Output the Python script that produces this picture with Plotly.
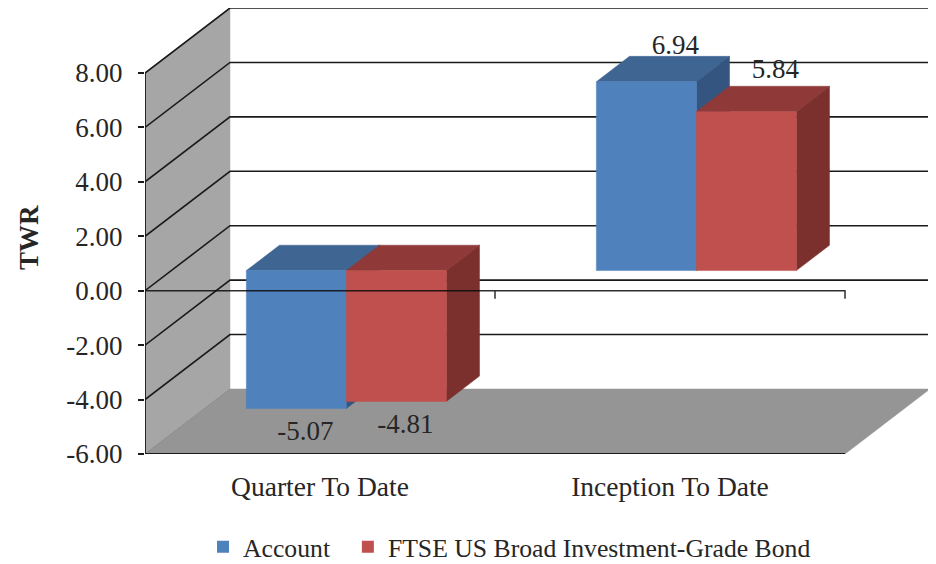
import plotly.graph_objects as go

categories = ["Quarter To Date", "Inception To Date"]
series_names = ["Account", "FTSE US Broad Investment-Grade Bond"]
account = [-5.07, 6.94]
ftse = [-4.81, 5.84]
y_ticks = [-6, -4, -2, 0, 2, 4, 6, 8]

FONT = "Liberation Serif"
TEXT = "#262626"
PAGE = 8                    # browser body margin
L, R, T, B = 145, 930, 8, 454
W, H = 936, 590
PX_X = 350.0                # px per category
PX_Y = (B - 73) / 14.0      # px per unit
DX, DY = 85 / PX_X, 65 / PX_Y          # full depth vector
xmax = 2 + DX
ymax = 8 + DY

FRONT = 0.31     # bar front depth fraction
BACK = 0.70      # bar back depth fraction
BAR_W = 100 / PX_X

fig = go.Figure()


def poly(xs, ys, color):
    fig.add_trace(go.Scatter(x=xs + xs[:1], y=ys + ys[:1], mode="lines", fill="toself",
                             fillcolor=color, line=dict(color=color, width=0.5),
                             hoverinfo="skip", showlegend=False))


def path(xs, ys, color="#1a1a1a", width=1.6):
    fig.add_trace(go.Scatter(x=xs, y=ys, mode="lines", line=dict(color=color, width=width),
                             hoverinfo="skip", showlegend=False))


# walls and floor
poly([0, DX, DX, 0], [-6, -6 + DY, 8 + DY, 8], "#A6A6A6")
poly([0, 2, 2 + DX, DX], [-6, -6, -6 + DY, -6 + DY], "#959595")

# gridlines on the side and back walls
for v in y_ticks[1:]:
    path([0, DX, 2 + DX], [v, v + DY, v + DY])
path([0, DX], [-6, -6 + DY], color="#8a8a8a", width=0.8)
path([0, 2], [-6, -6], width=2)


def bar(left, value, front_col, top_col, side_col):
    fx, fy = FRONT * DX, FRONT * DY
    bx, by = BACK * DX, BACK * DY
    x0, x1 = left + fx, left + BAR_W + fx
    lo, hi = min(0, value), max(0, value)
    # top face, side face, front face
    poly([x0, x1, x1 + bx - fx, x0 + bx - fx],
         [hi + fy, hi + fy, hi + by, hi + by], top_col)
    poly([x1, x1 + bx - fx, x1 + bx - fx, x1],
         [lo + fy, lo + by, hi + by, hi + fy], side_col)
    poly([x0, x1, x1, x0], [lo + fy, lo + fy, hi + fy, hi + fy], front_col)


styles = [("#4F81BD", "#3F6592", "#33557F"), ("#C0504D", "#8F3A38", "#7C302E")]
for i in range(len(categories)):
    center = i + 0.5
    bar(center - BAR_W, account[i], *styles[0])
    bar(center, ftse[i], *styles[1])

# value axis plane at zero, with its ticks, over the bars
TK = 8 / PX_Y
path([0, 0, 0, 1, 1, 1, 2, 2], [-TK, 0, 0, 0, -TK, 0, 0, -TK], color="rgba(10,10,10,0.85)", width=1.5)

# data labels
lab_x, lab_y, lab_t = [], [], []
for i in range(len(categories)):
    center = i + 0.5
    for j, val in enumerate((account[i], ftse[i])):
        cx = center + (j - 0.5) * BAR_W + FRONT * DX
        if val < 0:
            lab_x.append(cx + 9 / PX_X)
            lab_y.append(val + FRONT * DY - 25 / PX_Y)
        else:
            lab_x.append(cx + 29 / PX_X)
            lab_y.append(val + FRONT * DY + (34 if j == 0 else 40) / PX_Y)
        lab_t.append(f"{val:.2f}")
fig.add_trace(go.Scatter(x=lab_x, y=lab_y, text=lab_t, mode="text", textposition="middle center",
                         textfont=dict(family=FONT, size=27, color=TEXT),
                         hoverinfo="skip", showlegend=False))

# legend swatches
for k, (name, col) in enumerate(zip(series_names, ("#4F81BD", "#C0504D"))):
    label = name + ("\u00a0" * 2 if k == 0 else "")
    fig.add_trace(go.Scatter(x=[None], y=[None], mode="markers", name=label,
                             marker=dict(symbol="square", size=14, color=col)))

fig.add_annotation(text="<b>TWR</b>", textangle=-90, showarrow=False,
                   xref="x domain", yref="y domain", xanchor="center", yanchor="middle",
                   x=(29 - L) / (R - L), y=(B - 238) / (B - T),
                   font=dict(family=FONT, size=27, color=TEXT))

fig.update_layout(
    width=W, height=H, autosize=False,
    margin=dict(l=L - PAGE, r=W - R + PAGE, t=T - PAGE, b=H - B + PAGE, pad=0),
    paper_bgcolor="white", plot_bgcolor="white",
    font=dict(family=FONT, size=27, color=TEXT),
    xaxis=dict(range=[0, xmax], showgrid=False, zeroline=False, showline=False,
               tickmode="array", tickvals=[0.5, 1.5], ticktext=categories,
               ticks="", ticklabelstandoff=13, tickfont=dict(family=FONT, size=27.5, color=TEXT)),
    yaxis=dict(range=[-6, ymax], showgrid=False, zeroline=False, showline=False,
               tickmode="array", tickvals=y_ticks, ticktext=[f"{v:.2f}" for v in y_ticks],
               ticks="outside", ticklen=6, tickwidth=1.5, tickcolor="#1a1a1a",
               ticklabelstandoff=10,
               tickfont=dict(family=FONT, size=27, color=TEXT)),
    legend=dict(orientation="h", x=(203 - L) / (R - L), xanchor="left",
                y=(B - 547) / (B - T), yanchor="middle", itemsizing="constant",
                font=dict(family=FONT, size=25.7, color=TEXT), bgcolor="rgba(0,0,0,0)",
                itemwidth=30, tracegroupgap=0),
)
path([0, 0], [-6, 8], width=1.8)

fig.write_html("out.html")
